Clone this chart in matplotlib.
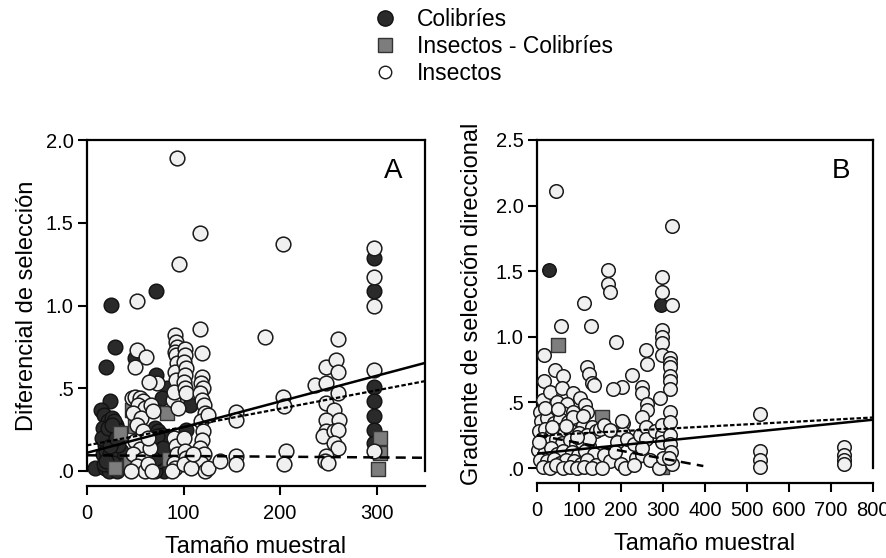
import matplotlib
matplotlib.use("Agg")
import matplotlib.pyplot as plt
from matplotlib.lines import Line2D

plt.rcParams['font.family'] = ['Liberation Sans', 'DejaVu Sans']

# ---- panel A: diferencial de selección ----
a_col_x = [25, 71, 29, 20, 50, 71, 83, 78, 107, 103, 297, 297, 297, 297, 297, 297, 297, 24, 15, 8,
           18, 22, 26, 30, 17, 21, 25, 29, 33, 19, 23, 27, 31, 17, 21, 25, 29, 33, 19, 23, 27, 31,
           35, 20, 24, 28, 32, 16, 22, 27, 32, 18, 24, 30, 20, 26,
           70, 74, 78, 72, 76, 80, 70, 74, 78, 72, 76, 80, 70, 75, 73, 77, 71, 79]
a_col_y = [1.005, 1.085, 0.75, 0.63, 0.68, 0.58, 0.50, 0.44, 0.40, 0.25, 1.29, 1.085, 0.51, 0.42,
           0.33, 0.25, 0.17, 0.42, 0.37, 0.02,
           0.34, 0.30, 0.32, 0.28, 0.26, 0.22, 0.24, 0.20, 0.22, 0.16, 0.18, 0.14, 0.12, 0.10, 0.08,
           0.06, 0.04, 0.08, 0.02, 0.0, 0.02, 0.0, 0.12, 0.12, 0.10, 0.30, 0.16, 0.20, 0.26, 0.05,
           0.25, 0.04, 0.15, 0.20, 0.06, 0.28,
           0.26, 0.24, 0.22, 0.18, 0.16, 0.20, 0.12, 0.10, 0.08, 0.04, 0.02, 0.0, 0.0, 0.06, 0.21,
           0.13, 0.08, 0.14]

a_mix_x = [34, 47, 50, 29, 45, 83, 85, 303, 303, 301]
a_mix_y = [0.23, 0.37, 0.27, 0.02, 0.05, 0.35, 0.07, 0.20, 0.11, 0.01]

a_ins_x = [93, 117, 95, 203, 297, 297, 297, 52, 184, 260, 117, 119, 52, 61, 50, 72, 64, 89, 297, 297,
           47, 50, 55, 58, 53, 60, 48, 56, 52, 58, 50, 55, 48, 58, 52, 60, 46,
           66, 68, 65, 63, 67, 63,
           91, 92, 93, 91, 92, 93, 91, 92, 90, 94, 90, 92, 93, 90, 91, 88,
           101, 101, 100, 102, 101, 100, 101, 102, 100, 101, 102, 100,
           119, 118, 120, 117, 119, 121, 122, 118, 120, 119, 117, 121, 118, 122, 125, 125,
           108, 110, 138, 154, 154, 154, 154, 203, 204, 206, 204,
           236, 248, 258, 260, 248, 260, 248, 256, 248, 261, 248, 244, 256, 260, 256, 260, 248, 246, 250]
a_ins_y = [1.89, 1.44, 1.25, 1.37, 1.35, 1.17, 0.995, 1.025, 0.81, 0.80, 0.86, 0.71, 0.73, 0.69, 0.63,
           0.53, 0.54, 0.43, 0.61, 0.12,
           0.44, 0.45, 0.44, 0.42, 0.40, 0.38, 0.35, 0.32, 0.28, 0.24, 0.18, 0.13, 0.10, 0.07, 0.03, 0.0, 0.0,
           0.40, 0.36, 0.14, 0.04, 0.0, 0.20,
           0.82, 0.78, 0.75, 0.72, 0.70, 0.65, 0.60, 0.55, 0.48, 0.38, 0.20, 0.15, 0.10, 0.05, 0.02, 0.0,
           0.74, 0.70, 0.66, 0.62, 0.58, 0.54, 0.50, 0.47, 0.20, 0.12, 0.08, 0.04,
           0.57, 0.53, 0.50, 0.47, 0.43, 0.40, 0.35, 0.30, 0.24, 0.19, 0.14, 0.10, 0.05, 0.0, 0.34, 0.02,
           0.02, 0.10, 0.06, 0.355, 0.31, 0.09, 0.04, 0.45, 0.39, 0.12, 0.04,
           0.52, 0.63, 0.67, 0.60, 0.53, 0.47, 0.41, 0.37, 0.31, 0.31, 0.24, 0.21, 0.24, 0.25, 0.17, 0.14,
           0.09, 0.06, 0.05]

# fitted lines (end points): solid, dotted, dashed
a_fit_x = [0, 350]
a_fit_solid = [0.11, 0.653]
a_fit_dotted = [0.155, 0.543]
a_fit_dashed = [0.095, 0.08]

# ---- panel B: gradiente de selección direccional ----
b_col_x = [28, 295]
b_col_y = [1.51, 1.245]

b_mix_x = [51, 154, 150, 297]
b_mix_y = [0.94, 0.385, 0.06, 0.01]

b_ins_x = [46, 322, 170, 170, 174, 297, 297, 322, 112, 129, 57, 188, 297, 297, 297, 297, 259, 261,
           317, 317, 317, 317, 317, 317, 317, 16, 16, 226, 202, 182, 119, 123, 131, 136, 44, 63,
           249, 249, 261, 261, 249, 293, 531, 531, 531, 531, 731, 731, 731, 731,
           14, 31, 59, 86, 47, 71, 102, 114, 7, 31, 62, 86, 119,
           10, 25, 40, 55, 75, 95, 110, 130,
           5, 20, 35, 50, 65, 80, 100, 120, 140,
           12, 28, 45, 60, 78, 92, 108, 125,
           3, 18, 33, 48, 63, 83, 98, 115, 135,
           8, 24, 40, 55, 70, 88, 104, 120, 140,
           15, 30, 45, 62, 78, 95, 112, 130,
           150, 160, 175, 205, 205, 190, 215, 230, 245, 260, 260, 280, 297, 297, 297, 317, 317, 317,
           320, 160, 175, 200, 155, 210, 235, 250, 270, 290, 300, 322, 315, 185, 230, 250, 202,
           20, 50, 85, 110, 35, 70, 125, 5, 95]
b_ins_y = [2.11, 1.845, 1.51, 1.40, 1.345, 1.455, 1.345, 1.245, 1.256, 1.08, 1.08, 0.957, 1.053, 1.0,
           0.95, 0.86, 0.90, 0.79, 0.84, 0.80, 0.77, 0.70, 0.66, 0.60, 0.43, 0.86, 0.66, 0.71, 0.62,
           0.60, 0.77, 0.72, 0.65, 0.63, 0.75, 0.70, 0.62, 0.57, 0.49, 0.44, 0.39, 0.53,
           0.41, 0.13, 0.06, 0.01, 0.16, 0.10, 0.06, 0.03,
           0.52, 0.58, 0.61, 0.57, 0.50, 0.49, 0.53, 0.48, 0.43, 0.42, 0.42, 0.43, 0.43,
           0.36, 0.38, 0.34, 0.37, 0.35, 0.36, 0.33, 0.31,
           0.28, 0.30, 0.27, 0.29, 0.26, 0.28, 0.27, 0.25, 0.28,
           0.22, 0.20, 0.22, 0.19, 0.21, 0.18, 0.20, 0.17,
           0.14, 0.12, 0.15, 0.11, 0.13, 0.12, 0.10, 0.13, 0.11,
           0.06, 0.05, 0.07, 0.04, 0.06, 0.05, 0.03, 0.06, 0.02,
           0.01, 0.0, 0.02, 0.0, 0.01, 0.0, 0.01, 0.0,
           0.30, 0.33, 0.29, 0.34, 0.27, 0.20, 0.22, 0.18, 0.25, 0.31, 0.22, 0.28, 0.25, 0.20, 0.33,
           0.35, 0.25, 0.18, 0.12, 0.10, 0.05, 0.03, 0.0, 0.0, 0.08, 0.10, 0.06, 0.0, 0.08, 0.03,
           0.08, 0.12, 0.02, 0.15, 0.355,
           0.46, 0.45, 0.39, 0.40, 0.31, 0.32, 0.22, 0.20, 0.24]

b_fit_x = [0, 800]
b_fit_solid = [0.11, 0.368]
b_fit_dotted = [0.246, 0.385]
b_fit_dashed_x = [0, 396]
b_fit_dashed = [0.25, 0.015]

a_yticks = [0, 0.5, 1.0, 1.5, 2.0]
a_ylabels = ['.0', '.5', '1.0', '1.5', '2.0']
a_xticks = [0, 100, 200, 300]
b_yticks = [0, 0.5, 1.0, 1.5, 2.0, 2.5]
b_ylabels = ['.0', '.5', '1.0', '1.5', '2.0', '2.5']
b_xticks = [0, 100, 200, 300, 400, 500, 600, 700, 800]

COL_FACE, COL_EDGE = '#2a2a2a', '#111111'
MIX_FACE, MIX_EDGE = '#7d7d7d', '#333333'
INS_FACE, INS_EDGE = '#f0f0f0', '#1a1a1a'


def draw_panel(ax, col, mix, ins, size, xlim, ylim, xticks, yticks, ylabels, ylabel, letter, ylabelpad):
    ax.scatter(*col, s=size, marker='o', facecolor=COL_FACE, edgecolor=COL_EDGE, linewidth=1.0,
               clip_on=False, zorder=2)
    ax.scatter(*mix, s=size * 0.95, marker='s', facecolor=MIX_FACE, edgecolor=MIX_EDGE, linewidth=1.0,
               clip_on=False, zorder=3)
    ax.scatter(*ins, s=size, marker='o', facecolor=INS_FACE, edgecolor=INS_EDGE, linewidth=1.1,
               clip_on=False, zorder=4)

    ax.set_xlim(*xlim)
    ax.set_ylim(*ylim)
    ax.set_xticks(xticks)
    ax.set_yticks(yticks)
    ax.set_yticklabels(ylabels)
    ax.tick_params(labelsize=14.5, width=1.5, length=6.5, direction='out')
    ax.tick_params(axis='x', pad=6.5)
    ax.tick_params(axis='y', pad=3)

    for side in ['left', 'right', 'top', 'bottom']:
        ax.spines[side].set_linewidth(1.6)
    ax.spines['bottom'].set_position(('outward', 11))
    ax.spines['bottom'].set_bounds(*xlim)

    ax.set_xlabel('Tamaño muestral', fontsize=17, labelpad=9)
    ax.set_ylabel(ylabel, fontsize=17, labelpad=ylabelpad)
    ax.text(0.905, 0.905, letter, transform=ax.transAxes, fontsize=20, ha='center', va='center',
            zorder=6)


fig = plt.figure(figsize=(8.87, 5.58), dpi=100)
ax_a = fig.add_axes([87 / 887, 1 - 471 / 558, 338 / 887, 331 / 558])
ax_b = fig.add_axes([537 / 887, 1 - 468 / 558, 336 / 887, 328 / 558])

draw_panel(ax_a, (a_col_x, a_col_y), (a_mix_x, a_mix_y), (a_ins_x, a_ins_y), 112,
           (0, 350), (0, 2.0), a_xticks, a_yticks, a_ylabels, 'Diferencial de selección', 'A', 6)
ax_a.plot(a_fit_x, a_fit_solid, color='black', lw=1.8, zorder=5)
ax_a.plot(a_fit_x, a_fit_dotted, color='black', lw=1.6, ls=(0, (2, 1)), zorder=5)
ax_a.plot(a_fit_x, a_fit_dashed, color='black', lw=1.8, ls=(0, (4, 2.5)), zorder=5)

draw_panel(ax_b, (b_col_x, b_col_y), (b_mix_x, b_mix_y), (b_ins_x, b_ins_y), 95,
           (0, 800), (0, 2.5), b_xticks, b_yticks, b_ylabels, 'Gradiente de selección direccional', 'B', 9)
ax_b.plot(b_fit_x, b_fit_solid, color='black', lw=1.8, zorder=5)
ax_b.plot(b_fit_x, b_fit_dotted, color='black', lw=1.6, ls=(0, (2, 1)), zorder=5)
ax_b.plot(b_fit_dashed_x, b_fit_dashed, color='black', lw=1.8, ls=(0, (4, 2.5)), zorder=5)

handles = [
    Line2D([], [], ls='none', marker='o', markersize=11, markerfacecolor=COL_FACE, markeredgecolor=COL_EDGE),
    Line2D([], [], ls='none', marker='s', markersize=9.5, markerfacecolor=MIX_FACE, markeredgecolor=MIX_EDGE),
    Line2D([], [], ls='none', marker='o', markersize=9, markerfacecolor='white', markeredgecolor=INS_EDGE),
]
fig.legend(handles, ['Colibríes', 'Insectos - Colibríes', 'Insectos'], loc='upper left',
           bbox_to_anchor=(346 / 887, 1.014), frameon=False, fontsize=16.5, handletextpad=0.4,
           labelspacing=0.175, borderpad=0.2)

fig.savefig('out.png', dpi=100)
